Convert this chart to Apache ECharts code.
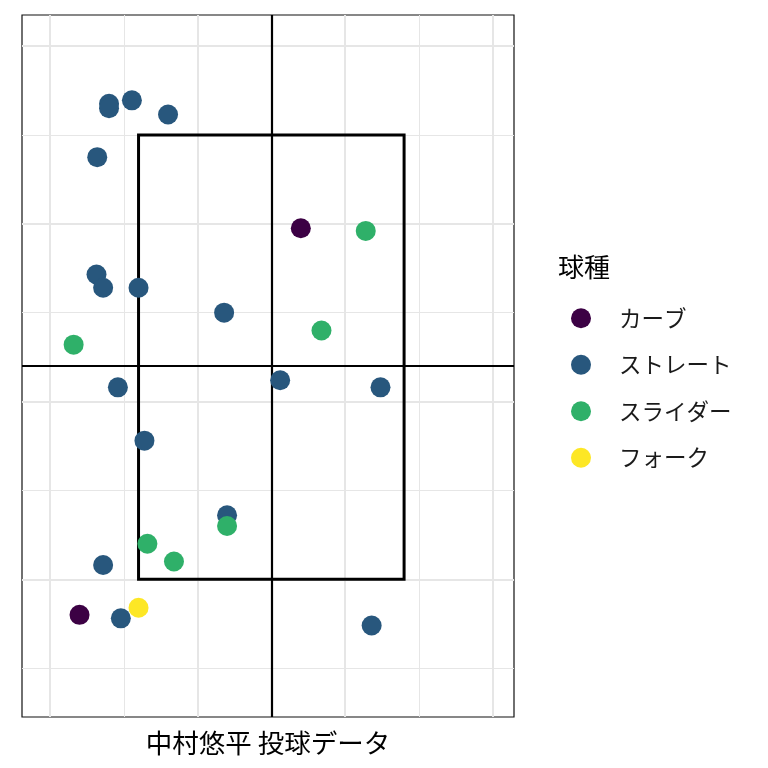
<!DOCTYPE html>
<html>
<head>
<meta charset="utf-8">
<script src="https://cdn.jsdelivr.net/npm/echarts@6/dist/echarts.min.js"></script>
<style>html,body{margin:0;padding:0;background:#fff;}#c{width:768px;height:768px;}</style>
</head>
<body>
<div id="c"></div>
<script>
// ---- data ----
const pitchTypes = ['カーブ', 'ストレート', 'スライダー', 'フォーク'];
const curve = [[0.40, 4.95], [-2.60, 0.60]];
const straight = [
  [-2.20, 6.35], [-2.20, 6.30], [-1.89, 6.39], [-1.40, 6.23], [-2.36, 5.75],
  [-2.37, 4.43], [-2.28, 4.28], [-1.80, 4.28], [-0.64, 4.00], [-2.08, 3.16],
  [0.12, 3.24], [1.48, 3.16], [-1.72, 2.56], [-0.60, 1.72], [-2.28, 1.16],
  [-2.04, 0.56], [1.36, 0.48]
];
const slider = [[1.28, 4.92], [0.68, 3.80], [-2.68, 3.64], [-0.60, 1.60], [-1.68, 1.40], [-1.32, 1.20]];
const fork = [[-1.80, 0.68]];
const zoneX = [-1.8, 1.8];
const zoneY = [1, 6];
const centerX = 0;
const centerY = 3.4;
const xLim = [-3.38, 3.29];
const yLim = [-0.55, 7.35];
const xMajor = [-3, -1, 1, 3];
const xMinor = [-2, 0, 2];
const yMajor = [1, 3, 5, 7];
const yMinor = [0, 2, 4, 6];
const colors = ['#3c0144', '#28577d', '#2fb069', '#fde725'];
const xTitle = '中村悠平 投球データ';
const legendTitle = '球種';

const font = '"Noto Sans CJK JP", "Noto Sans", sans-serif';
const chart = echarts.init(document.getElementById('c'), null, {renderer: 'canvas'});

function gridLines(vals, axis, width) {
  return vals.map(v => ({[axis]: v, lineStyle: {color: '#e6e6e6', width: width, type: 'solid'}}));
}

const zonePath = [
  [zoneX[0], zoneY[0]], [zoneX[1], zoneY[0]], [zoneX[1], zoneY[1]],
  [zoneX[0], zoneY[1]], [zoneX[0], zoneY[0]]
];

const pointSeries = [curve, straight, slider, fork].map((d, i) => ({
  name: pitchTypes[i],
  type: 'scatter',
  data: d,
  symbol: 'circle',
  symbolSize: 20,
  itemStyle: {color: colors[i], opacity: 1},
  z: 10 + i,
  silent: true,
  animation: false
}));

chart.setOption({
  animation: false,
  backgroundColor: '#fff',
  grid: {left: 22, right: 254, top: 15, bottom: 51, show: true, borderColor: '#111', borderWidth: 1.2, backgroundColor: '#fff'},
  xAxis: {
    type: 'value', min: xLim[0], max: xLim[1],
    axisLine: {show: false}, axisTick: {show: false}, axisLabel: {show: false}, splitLine: {show: false},
    name: xTitle, nameLocation: 'middle', nameGap: 13,
    nameTextStyle: {fontSize: 26.5, color: '#000', fontFamily: font}
  },
  yAxis: {
    type: 'value', min: yLim[0], max: yLim[1],
    axisLine: {show: false}, axisTick: {show: false}, axisLabel: {show: false}, splitLine: {show: false}
  },
  legend: {
    data: pitchTypes.map(n => ({name: n, icon: 'circle'})),
    orient: 'vertical', left: 571, top: 307, padding: 0,
    itemWidth: 20, itemHeight: 20, itemGap: 24,
    selectedMode: false,
    textStyle: {fontSize: 22.5, color: '#1a1a1a', fontFamily: font, padding: [0, 0, 0, 23]}
  },
  graphic: [{
    type: 'text', left: 558, top: 254,
    style: {text: legendTitle, fontSize: 26, fill: '#000', fontFamily: font}
  }],
  series: [
    {
      type: 'scatter', data: [], silent: true, z: 1,
      markLine: {
        silent: true, symbol: 'none', label: {show: false}, animation: false, z: 1,
        data: [].concat(
          gridLines(xMinor, 'xAxis', 1), gridLines(yMinor, 'yAxis', 1),
          gridLines(xMajor, 'xAxis', 2), gridLines(yMajor, 'yAxis', 2)
        )
      }
    },
    {
      type: 'scatter', data: [], silent: true, z: 3,
      markLine: {
        silent: true, symbol: 'none', label: {show: false}, animation: false,
        lineStyle: {color: '#000', width: 2.2, type: 'solid'},
        data: [{xAxis: centerX}, {yAxis: centerY}]
      }
    },
    {
      type: 'line', data: zonePath, silent: true, z: 4,
      symbol: 'none', showSymbol: false, animation: false,
      lineStyle: {color: '#000', width: 3, join: 'miter', cap: 'square'}
    }
  ].concat(pointSeries)
});
</script>
</body>
</html>
